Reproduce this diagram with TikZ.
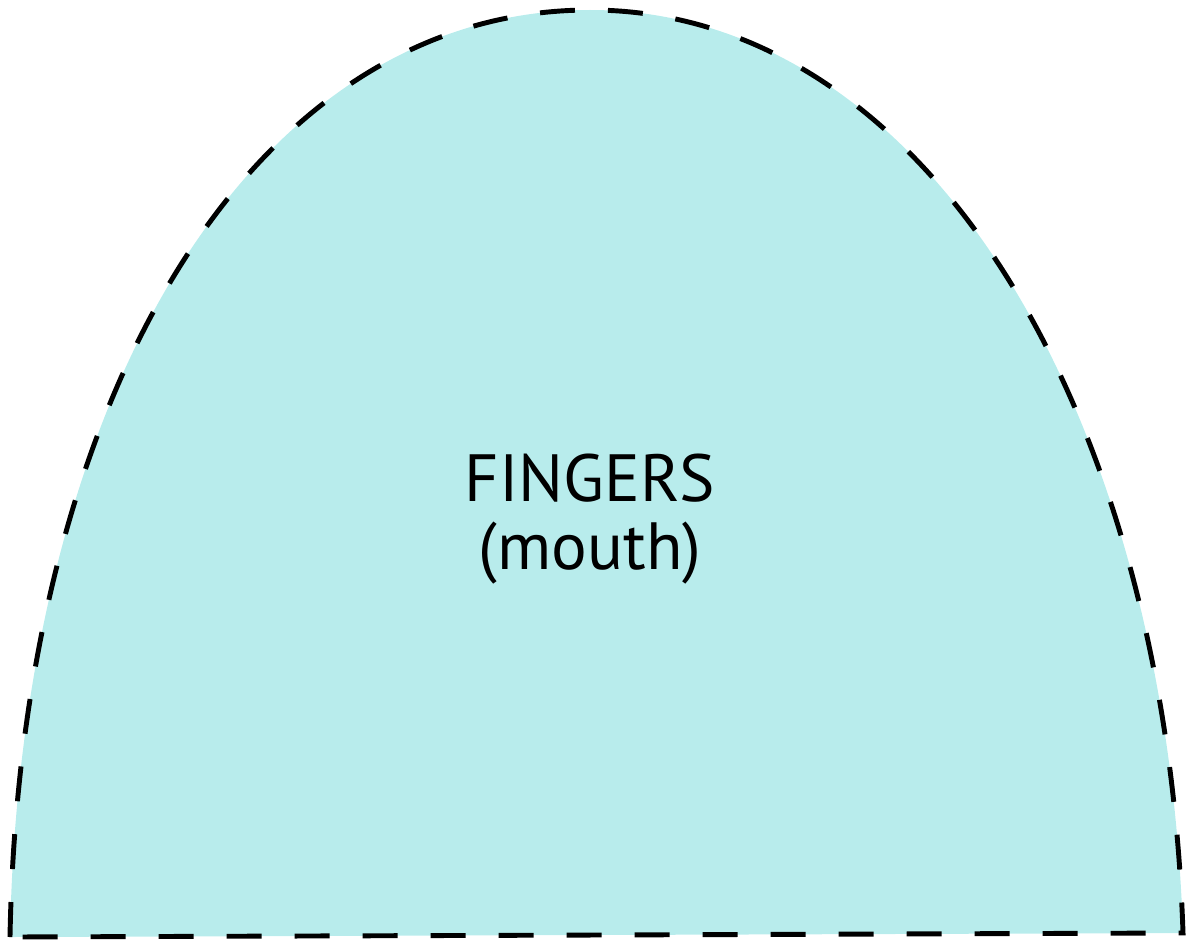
\documentclass[tikz,border=0pt]{standalone}
\usepackage{fontspec}
\setmainfont{PT Sans}
\usepackage{tikz}
\usetikzlibrary{calc}
\definecolor{mouthcyan}{HTML}{B8ECEC}

\begin{document}
\begin{tikzpicture}[
    domeline/.style={line width=1.4pt,dash pattern=on 0.35cm off 0.33cm,fill=mouthcyan},
    domelabel/.style={align=center,font=\fontsize{19}{19.5}\selectfont}
  ]
    \useasboundingbox (0,0) rectangle (11.93,9.43);
    \coordinate (bl) at (0.10,0.06);
    \coordinate (br) at (11.83,0.10);
    \coordinate (top) at (5.90,9.33);
    \draw[domeline] (bl) .. controls (0.20,5.43) and (2.50,9.33) .. (top)
        .. controls (9.20,9.33) and (11.65,5.43) .. (br) -- cycle;
    \node[domelabel] (fingers) at (5.90,4.24) {FINGERS\\(mouth)};
  \end{tikzpicture}
\end{document}
